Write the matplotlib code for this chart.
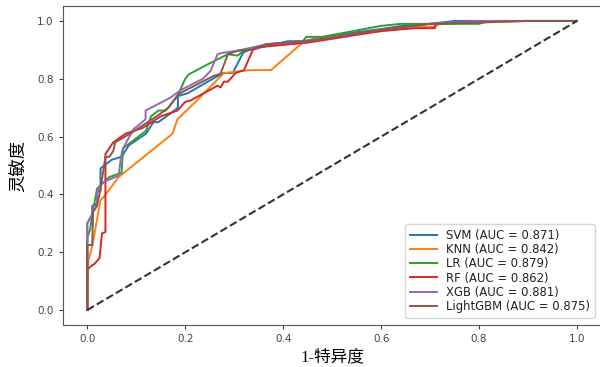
import matplotlib
matplotlib.use("Agg")
import matplotlib.pyplot as plt

# ROC curve vertices (fpr, tpr)
svm_fpr = [0, 0, 0.01, 0.01, 0.02, 0.02, 0.027, 0.027, 0.05, 0.07, 0.085, 0.12, 0.135, 0.145, 0.17, 0.185, 0.185, 0.205, 0.277, 0.297, 0.318, 0.33, 0.41, 0.44, 0.5, 0.6, 0.65, 0.7, 0.75, 1.0]
svm_tpr = [0, 0.30, 0.33, 0.36, 0.37, 0.41, 0.41, 0.49, 0.52, 0.53, 0.57, 0.61, 0.65, 0.65, 0.68, 0.70, 0.74, 0.75, 0.82, 0.82, 0.89, 0.90, 0.93, 0.93, 0.95, 0.972, 0.985, 0.99, 1.0, 1.0]

knn_fpr = [0, 0.002, 0.01, 0.027, 0.033, 0.064, 0.174, 0.184, 0.221, 0.279, 0.334, 0.375, 0.443, 0.5, 0.6, 0.67, 0.71, 0.72, 0.9, 1.0]
knn_tpr = [0, 0.17, 0.22, 0.38, 0.39, 0.46, 0.61, 0.66, 0.72, 0.82, 0.83, 0.83, 0.93, 0.945, 0.965, 0.98, 0.98, 0.99, 1.0, 1.0]

lr_fpr = [0, 0, 0.006, 0.01, 0.02, 0.045, 0.07, 0.073, 0.085, 0.12, 0.13, 0.145, 0.16, 0.184, 0.2, 0.207, 0.246, 0.287, 0.307, 0.318, 0.338, 0.375, 0.44, 0.447, 0.48, 0.6, 0.64, 0.8, 0.82, 1.0]
lr_tpr = [0, 0.25, 0.28, 0.33, 0.42, 0.46, 0.475, 0.56, 0.575, 0.62, 0.67, 0.69, 0.69, 0.74, 0.80, 0.815, 0.85, 0.885, 0.88, 0.895, 0.908, 0.92, 0.93, 0.945, 0.945, 0.983, 0.99, 0.99, 1.0, 1.0]

rf_fpr = [0, 0, 0.01, 0.015, 0.025, 0.03, 0.037, 0.037, 0.053, 0.078, 0.113, 0.15, 0.184, 0.2, 0.211, 0.266, 0.272, 0.279, 0.287, 0.303, 0.32, 0.338, 0.355, 0.45, 0.6, 0.67, 0.71, 0.71, 0.85, 1.0]
rf_tpr = [0, 0.14, 0.155, 0.16, 0.18, 0.265, 0.27, 0.54, 0.58, 0.61, 0.63, 0.67, 0.69, 0.72, 0.725, 0.776, 0.77, 0.79, 0.79, 0.82, 0.83, 0.90, 0.91, 0.925, 0.965, 0.975, 0.975, 0.99, 1.0, 1.0]

xgb_fpr = [0, 0, 0.01, 0.01, 0.02, 0.02, 0.03, 0.05, 0.064, 0.068, 0.071, 0.078, 0.094, 0.119, 0.119, 0.17, 0.19, 0.236, 0.252, 0.266, 0.277, 0.30, 0.37, 0.45, 0.6, 0.7, 0.8, 1.0]
xgb_tpr = [0, 0.30, 0.33, 0.36, 0.36, 0.41, 0.44, 0.455, 0.465, 0.52, 0.55, 0.575, 0.625, 0.66, 0.69, 0.735, 0.76, 0.80, 0.828, 0.885, 0.89, 0.895, 0.92, 0.93, 0.97, 0.99, 1.0, 1.0]

lgb_fpr = [0, 0, 0.01, 0.012, 0.016, 0.02, 0.027, 0.037, 0.045, 0.053, 0.057, 0.092, 0.15, 0.166, 0.186, 0.258, 0.272, 0.287, 0.307, 0.334, 0.365, 0.45, 0.6, 0.7, 0.9, 1.0]
lgb_tpr = [0, 0.225, 0.225, 0.34, 0.35, 0.36, 0.42, 0.53, 0.53, 0.55, 0.58, 0.615, 0.68, 0.70, 0.747, 0.81, 0.817, 0.885, 0.897, 0.90, 0.92, 0.93, 0.97, 0.99, 1.0, 1.0]

models = ["SVM", "KNN", "LR", "RF", "XGB", "LightGBM"]
aucs = [0.871, 0.842, 0.879, 0.862, 0.881, 0.875]
curves = [(svm_fpr, svm_tpr), (knn_fpr, knn_tpr), (lr_fpr, lr_tpr),
          (rf_fpr, rf_tpr), (xgb_fpr, xgb_tpr), (lgb_fpr, lgb_tpr)]
colors = ["#1f77b4", "#ff7f0e", "#2ca02c", "#d62728", "#9467bd", "#8c564b"]

fig = plt.figure(figsize=(6.0, 3.67), dpi=100)
ax = fig.add_axes([0.1047, 0.1158, 0.8978, 0.8665])

for (fx, ty), name, auc, c in zip(curves, models, aucs, colors):
    ax.plot(fx, ty, color=c, lw=1.4, label=f"{name} (AUC = {auc:.3f})")
ax.plot([0, 1], [0, 1], "k--", lw=1.5, color="#333333")

ax.set_xticks([0, 0.2, 0.4, 0.6, 0.8, 1.0])
ax.set_yticks([0, 0.2, 0.4, 0.6, 0.8, 1.0])
ax.tick_params(labelsize=7.5, colors="#444444", length=3)
for s in ax.spines.values():
    s.set_color("#555555")

cjk = ["Liberation Serif", "Noto Sans CJK SC", "DejaVu Sans"]
ax.set_xlabel("1-特异度", fontsize=12, family=cjk, labelpad=4)
ax.set_ylabel("灵敏度", fontsize=12.5, family=["Noto Sans CJK SC", "DejaVu Sans"], labelpad=7)

leg = ax.legend(loc="lower right", fontsize=8.4, labelspacing=0.1,
                borderaxespad=0.6, handlelength=2.3, borderpad=0.4)
for t in leg.get_texts():
    t.set_color("#222222")
fig.savefig("out.png", dpi=100)
